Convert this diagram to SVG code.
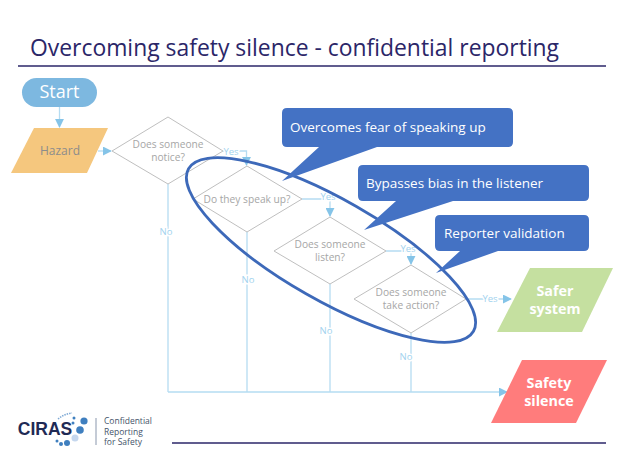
<svg xmlns="http://www.w3.org/2000/svg" width="623" height="462" viewBox="0 0 623 462">
<style>
text{font-family:"Open Sans","Noto Sans","Liberation Sans",sans-serif;text-anchor:middle}
.d{fill:#fff;stroke:#bfbfbf;stroke-width:1}
.dt{font-size:10.200px;fill:#a6a6a6}
.c{fill:none;stroke:#b5dcf2;stroke-width:1.300}
.l{font-size:9.500px;fill:#a2d2ee;stroke:#fff;stroke-width:3px;paint-order:stroke}
.w{font-size:14.300px;font-weight:700;fill:#fff}
.b{fill:#4472c4}
.bt{font-size:13.500px;fill:#fff;text-anchor:start}
.lg{font-size:8.500px;fill:#44546a;text-anchor:start}
</style>
<defs>
<marker id="a" viewBox="0 0 10 10" refX="9" refY="5" markerWidth="9" markerHeight="9" markerUnits="userSpaceOnUse" orient="auto"><path d="M0 0L10 5L0 10Z" fill="#85c4e8"/></marker>
</defs>
<rect width="623" height="462" fill="#fff"/>
<g id="title">
<text x="30" y="56" style="font-size:22.900px;fill:#2b2668;text-anchor:start">Overcoming safety silence - confidential reporting</text>
<path d="M18 66H606" stroke="#2b2668" stroke-width="1.600"/>
<path d="M172 443H606" stroke="#2b2668" stroke-width="1.600"/>
</g>
<g id="connectors">
<path class="c" d="M59.500 107V127" marker-end="url(#a)"/>
<path class="c" d="M98 151H111" marker-end="url(#a)"/>
<path class="c" d="M223 151H246.500V165" marker-end="url(#a)"/>
<path class="c" d="M302 199H330V216" marker-end="url(#a)"/>
<path class="c" d="M386 251H411V264" marker-end="url(#a)"/>
<path class="c" d="M466 299H511" marker-end="url(#a)"/>
<path class="c" d="M168 184V392"/>
<path class="c" d="M247 232V392"/>
<path class="c" d="M330 284V392"/>
<path class="c" d="M411 333V392"/>
<path class="c" style="stroke-width:1.600" d="M168 392H507" marker-end="url(#a)"/>
<text class="l" x="231" y="155">Yes</text>
<text class="l" x="328" y="200">Yes</text>
<text class="l" x="408" y="252">Yes</text>
<text class="l" x="490" y="302">Yes</text>
<text class="l" x="166" y="235">No</text>
<text class="l" x="248" y="283">No</text>
<text class="l" x="326" y="334">No</text>
<text class="l" x="406" y="360">No</text>
</g>
<g id="start"><rect x="22" y="78" width="75" height="29" rx="14.500" fill="#7db8e0"/><text x="59.500" y="98" style="font-size:18px;fill:#fff">Start</text></g>
<g id="hazard"><path d="M34 128H108L87 173H11Z" fill="#f5c77e"/><text x="60" y="155" style="font-size:12px;fill:#8c8c8c">Hazard</text></g>
<g id="d1"><path class="d" d="M168 117L223 151L168 184L112 151Z"/><text class="dt" x="168" y="148">Does someone</text><text class="dt" x="168" y="161">notice?</text></g>
<g id="d2"><path class="d" d="M247 166L302 199L247 232L193 199Z"/><text class="dt" x="247" y="203">Do they speak up?</text></g>
<g id="d3"><path class="d" d="M330 217L386 251L330 284L274 251Z"/><text class="dt" x="330" y="248">Does someone</text><text class="dt" x="330" y="261">listen?</text></g>
<g id="d4"><path class="d" d="M411 265L466 299L411 333L354 299Z"/><text class="dt" x="411" y="296">Does someone</text><text class="dt" x="411" y="309">take action?</text></g>
<g id="safer"><path d="M530 268H613L582 332H497Z" fill="#c5e0a0"/><text class="w" x="555" y="296">Safer</text><text class="w" x="555" y="314">system</text></g>
<g id="silence"><path d="M522 360H607L576 423H491Z" fill="#ff7c7c"/><text class="w" x="549" y="388">Safety</text><text class="w" x="549" y="406">silence</text></g>
<g id="ellipse"><ellipse cx="331" cy="250" rx="164" ry="50.400" transform="rotate(29.700 331 250)" fill="none" stroke="#3d69b9" stroke-width="2.800"/></g>
<g id="callout1"><path class="b" d="M287 108H508Q513 108 513 113V142Q513 147 508 147H377L282 181L319 147H287Q282 147 282 142V113Q282 108 287 108Z"/><text class="bt" x="290" y="132">Overcomes fear of speaking up</text></g>
<g id="callout2"><path class="b" d="M363 165H584Q589 165 589 170V196Q589 201 584 201H453L364 230L396 201H363Q358 201 358 196V170Q358 165 363 165Z"/><text class="bt" x="366" y="188">Bypasses bias in the listener</text></g>
<g id="callout3"><path class="b" d="M440 215H584Q589 215 589 220V246Q589 251 584 251H498L436 273L460 251H440Q435 251 435 246V220Q435 215 440 215Z"/><text class="bt" x="444" y="238">Reporter validation</text></g>
<g id="logo">
<text x="45" y="435" style="font-size:17.500px;font-weight:800;fill:#1f2a55;font-family:'Liberation Sans',sans-serif">CIRAS</text>
<circle cx="84" cy="421" r="3.600" fill="#3f7fbf"/><circle cx="80" cy="430" r="3.800" fill="#3f7fbf"/><circle cx="75" cy="438" r="3.500" fill="#c5d7ee"/><circle cx="67" cy="443" r="3" fill="#3f7fbf"/><circle cx="61" cy="444" r="2" fill="#3f7fbf"/><circle cx="57" cy="441" r="1.500" fill="#3f7fbf"/>
<path d="M58 419Q64 414 72 413" fill="none" stroke="#7da8d4" stroke-width="1.500" stroke-dasharray="1.500 1"/><circle cx="74" cy="418" r="1.500" fill="#3f7fbf"/><circle cx="73" cy="423" r="1.500" fill="#3f7fbf"/>
<path d="M96 418V445" stroke="#8a97ad" stroke-width="1"/>
<text class="lg" x="104" y="424">Confidential</text><text class="lg" x="104" y="434.500">Reporting</text><text class="lg" x="104" y="445">for Safety</text>
</g>
</svg>
